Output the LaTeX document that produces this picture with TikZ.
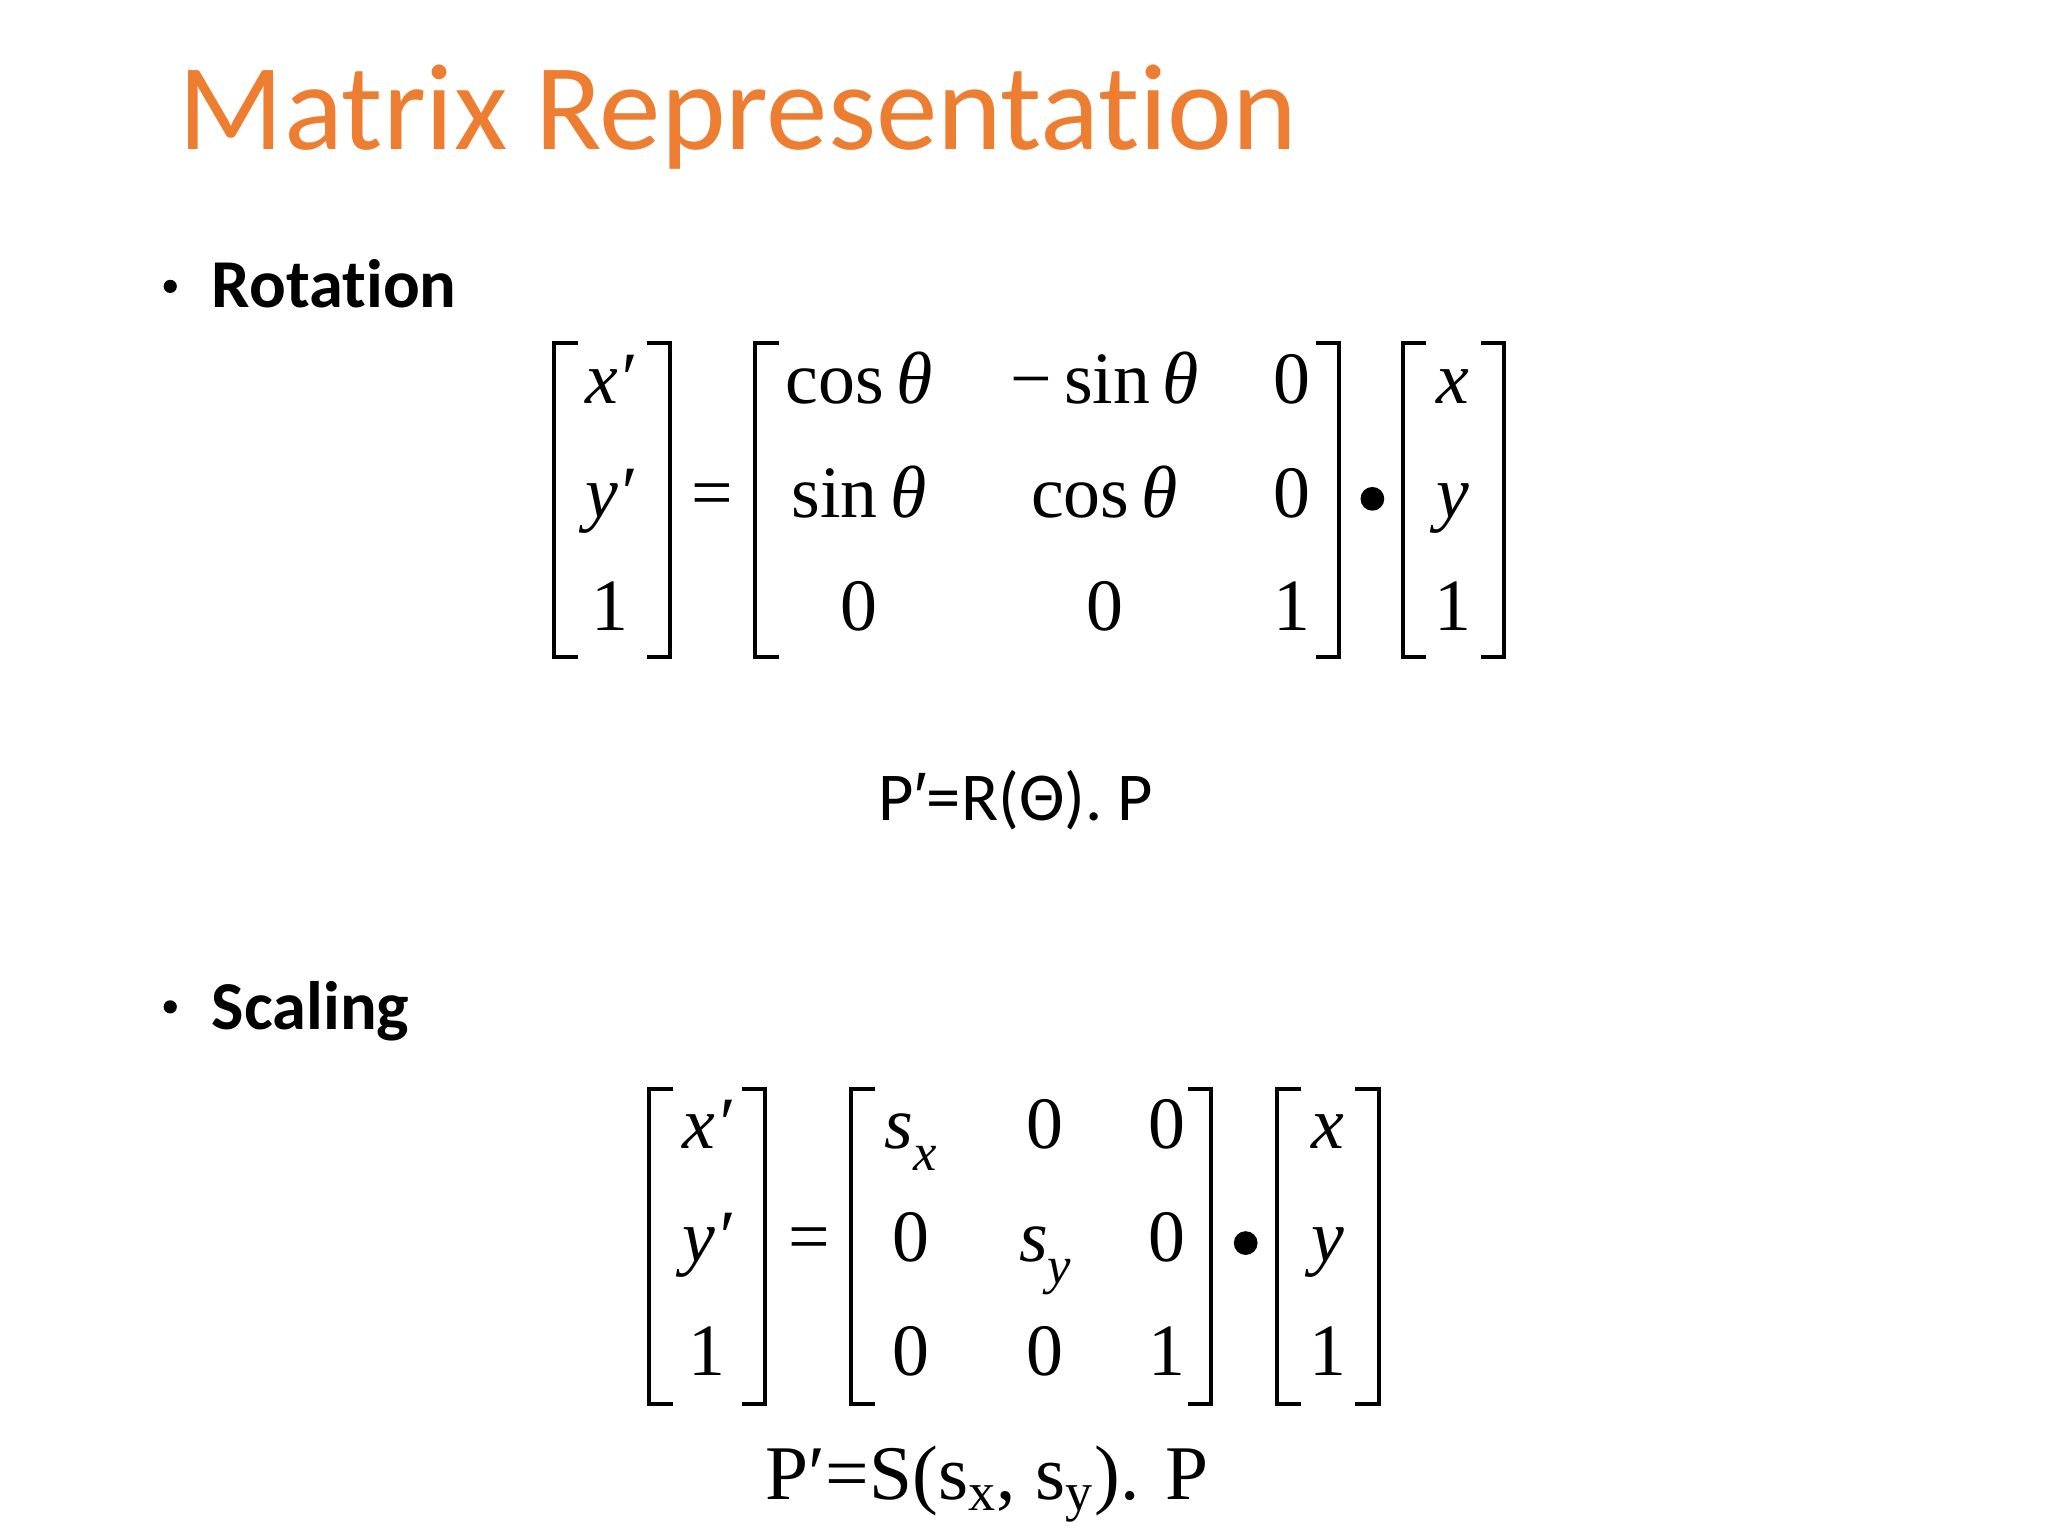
\documentclass[tikz,border=0pt]{standalone}
\usepackage{fontspec}
\setmainfont{Liberation Serif}
\newfontfamily\calfont[Ligatures=NoCommon]{Carlito}
\newfontfamily\lsans{Liberation Sans}
\definecolor{ttl}{RGB}{237,125,49}
\begin{document}
\begin{tikzpicture}[x=0.0132cm,y=-0.0132cm,
 ent/.style={anchor=base,inner sep=0pt,font=\fontsize{21}{24}\selectfont},
 hd/.style={anchor=base west,inner sep=0pt,font=\calfont\bfseries\fontsize{19.5}{24}\selectfont},
 br/.style={line width=1.1pt}]
\useasboundingbox (0,0) rectangle (1552,1164);
\node[anchor=base west,inner sep=0pt,text=ttl,font=\calfont\fontsize{35}{40}\selectfont] (title) at (135,113) {Matrix Representation};
% bullets
\node[hd] (b1) at (160,233) {Rotation};
\node[hd] (b2) at (160,780) {Scaling};
\fill (129,217) circle (5);
\fill (129,763) circle (5);
\newcommand\brk[4]{%
 \draw[br] (#1+18,#3) -- (#1,#3) -- (#1,#4) -- (#1+18,#4);
 \draw[br] (#2-18,#3) -- (#2,#3) -- (#2,#4) -- (#2-18,#4);}
% rotation
\brk{420}{508}{260}{498}
\brk{572}{1015}{260}{498}
\brk{1063}{1140}{260}{498}
\node[ent] (rv1) at (462,306) {\itshape x′};
\node[ent] (rv2) at (462,392) {\itshape y′};
\node[ent] (rv3) at (462,478) {1};
\node[ent] (req) at (540,392) {=};
\node[ent] (r11) at (651,306) {cos\,\itshape θ};
\node[ent] (r12) at (837,306) {−\,sin\,\itshape θ};
\node[ent] (r13) at (979,306) {0};
\node[ent] (r21) at (651,392) {sin\,\itshape θ};
\node[ent] (r22) at (837,392) {cos\,\itshape θ};
\node[ent] (r23) at (979,392) {0};
\node[ent] (r31) at (651,478) {0};
\node[ent] (r32) at (837,478) {0};
\node[ent] (r33) at (979,478) {1};
\fill (1040,378) circle (9);
\node[ent] (rx) at (1101,306) {\itshape x};
\node[ent] (ry) at (1101,392) {\itshape y};
\node[ent] (r1) at (1101,478) {1};
\node[anchor=base,inner sep=0pt,font=\calfont\fontsize{19.5}{24}\selectfont] (pr) at (770,622) {P{\lsans ′}=R(Θ). P};
% scaling
\brk{492}{580}{825}{1064}
\brk{645}{918}{825}{1064}
\brk{968}{1045}{825}{1064}
\node[ent] (sv1) at (536,870) {\itshape x′};
\node[ent] (sv2) at (536,956) {\itshape y′};
\node[ent] (sv3) at (536,1042) {1};
\node[ent] (seq) at (613,956) {=};
\node[ent] (s11) at (690,870) {\itshape s\raisebox{-0.3em}{\fontsize{15}{15}\selectfont x}};
\node[ent] (s12) at (792,870) {0};
\node[ent] (s13) at (884,870) {0};
\node[ent] (s21) at (690,956) {0};
\node[ent] (s22) at (792,956) {\itshape s\raisebox{-0.3em}{\fontsize{15}{15}\selectfont y}};
\node[ent] (s23) at (884,956) {0};
\node[ent] (s31) at (690,1042) {0};
\node[ent] (s32) at (792,1042) {0};
\node[ent] (s33) at (884,1042) {1};
\fill (944,942) circle (9);
\node[ent] (sx) at (1006,870) {\itshape x};
\node[ent] (sy) at (1006,956) {\itshape y};
\node[ent] (s1) at (1006,1042) {1};
\node[anchor=base,inner sep=0pt,font=\fontsize{22}{26}\selectfont] (ps) at (748,1136) {P′=S(s\textsubscript{x}, s\textsubscript{y}). P};
\end{tikzpicture}
\end{document}
